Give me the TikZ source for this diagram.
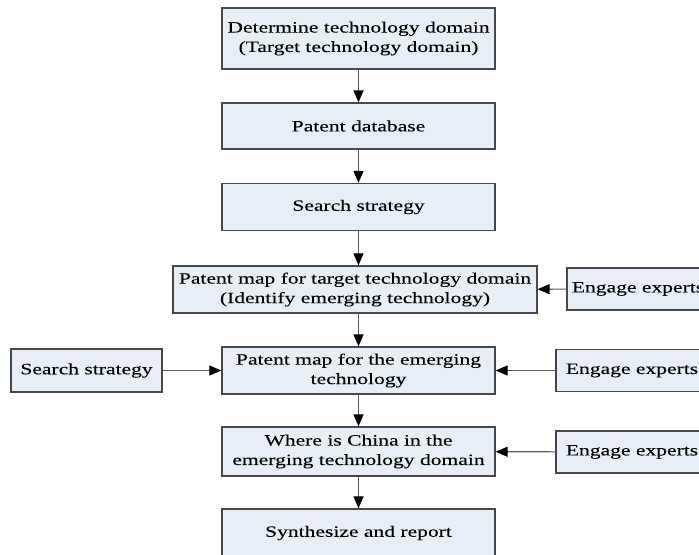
\documentclass[tikz,border=0pt]{standalone}
\usepackage{fontspec}
\setmainfont{Liberation Serif}[FakeStretch=1.37,FakeBold=0.12]
\usetikzlibrary{arrows.meta}
\definecolor{boxfill}{RGB}{232,238,248}
\definecolor{boxline}{RGB}{72,72,72}
\definecolor{conline}{RGB}{90,90,90}
\begin{document}
\begin{tikzpicture}[x=0.75pt,y=-0.75pt,
  box/.style={draw=boxline,line width=0.95pt,fill=boxfill,align=center,inner sep=0pt,
    font=\fontsize{11.8pt}{14.6pt}\selectfont},
  mainbox/.style={box,minimum width=204.75pt},
  flow/.style={draw=conline,line width=0.9pt,-{Triangle[length=9pt,width=7.5pt,color=black,fill=black]}}]
\useasboundingbox (0,0) rectangle (699,555);
\clip (0,0) rectangle (699,555);
\node[mainbox,minimum height=45.75pt] (b1) at (358.5,38.5) {Determine technology domain\\(Target technology domain)};
\node[mainbox,minimum height=34.5pt] (b2) at (358.5,126) {Patent database};
\node[mainbox,minimum height=35.25pt] (b3) at (358.5,207) {Search strategy};
\node[box,minimum width=273pt,minimum height=35.25pt] (b4) at (355,289.5) {Patent map for target technology domain\\(Identify emerging technology)};
\node[box,minimum width=106.5pt,minimum height=31.5pt] (e1) at (638,289) {Engage experts};
\node[mainbox,minimum height=35.25pt] (b5) at (358.5,370.5) {Patent map for the emerging\\technology};
\node[box,minimum width=113.25pt,minimum height=32.25pt] (s1) at (86.5,370.5) {Search strategy};
\node[box,minimum width=114pt,minimum height=31.5pt] (e2) at (632,370.5) {Engage experts};
\node[mainbox,minimum height=36.75pt] (b6) at (358.5,451.5) {Where is China in the\\emerging technology domain};
\node[box,minimum width=114pt,minimum height=31.5pt] (e3) at (632,452) {Engage experts};
\node[mainbox,minimum height=36pt] (b7) at (358.5,533) {Synthesize and report};
\draw[flow] (b1) -- (b2);
\draw[flow] (b2) -- (b3);
\draw[flow] (b3.south) -- (b3.south |- b4.north);
\draw[flow] (b5.north |- b4.south) -- (b5.north);
\draw[flow] (b5) -- (b6);
\draw[flow] (b6) -- (b7);
\draw[flow] (e1) -- (b4);
\draw[flow] (e2) -- (b5);
\draw[flow] (e3) -- (b6);
\draw[flow] (s1) -- (b5);
\end{tikzpicture}
\end{document}
